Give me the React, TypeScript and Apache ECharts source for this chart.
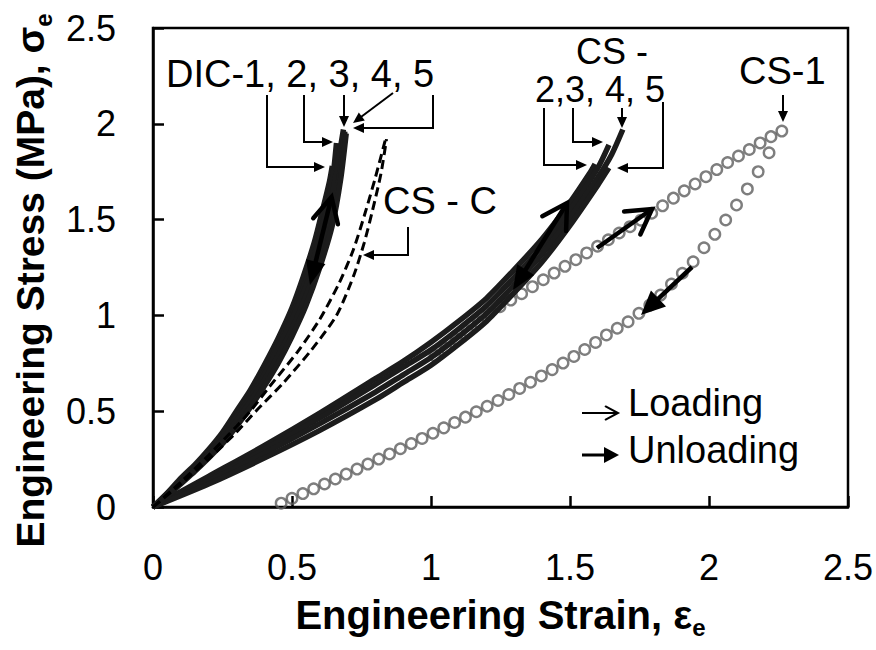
import React, { useEffect, useRef } from "react";
import * as echarts from "echarts";

// ---------------- DATA ----------------
const xTicks = [0, 0.5, 1, 1.5, 2, 2.5];
const yTicks = [0, 0.5, 1, 1.5, 2, 2.5];

// DIC-1..5 (dense star markers, drawn as dark lines)
const dic1 = [[0,0],[0.05,0.07],[0.1,0.15],[0.15,0.22],[0.2,0.3],[0.25,0.39],[0.3,0.5],[0.35,0.61],[0.4,0.74],[0.45,0.88],[0.5,1.04],[0.54,1.2],[0.58,1.38],[0.61,1.55],[0.635,1.7],[0.645,1.78]];
const dic2 = [[0,0],[0.05,0.07],[0.1,0.14],[0.15,0.21],[0.2,0.29],[0.25,0.38],[0.3,0.48],[0.35,0.59],[0.4,0.71],[0.45,0.85],[0.5,1.0],[0.55,1.18],[0.59,1.36],[0.62,1.53],[0.645,1.7],[0.66,1.9]];
const dic3 = [[0,0],[0.05,0.065],[0.1,0.135],[0.15,0.2],[0.2,0.28],[0.25,0.37],[0.3,0.47],[0.35,0.57],[0.4,0.69],[0.45,0.83],[0.5,0.98],[0.55,1.15],[0.6,1.35],[0.635,1.55],[0.66,1.75],[0.685,1.97]];
const dic4 = [[0,0],[0.05,0.06],[0.1,0.13],[0.15,0.195],[0.2,0.27],[0.25,0.355],[0.3,0.45],[0.35,0.55],[0.4,0.66],[0.45,0.79],[0.5,0.93],[0.55,1.1],[0.6,1.3],[0.64,1.5],[0.67,1.72],[0.69,1.96]];
const dic5 = [[0,0],[0.05,0.055],[0.1,0.12],[0.15,0.185],[0.2,0.255],[0.25,0.33],[0.3,0.42],[0.35,0.52],[0.4,0.63],[0.45,0.75],[0.5,0.89],[0.55,1.05],[0.6,1.25],[0.645,1.47],[0.675,1.71],[0.695,1.95]];

// CS - C (dashed)
const csC1 = [[0,0],[0.1,0.13],[0.2,0.27],[0.3,0.42],[0.35,0.5],[0.42,0.63],[0.52,0.81],[0.6,0.98],[0.67,1.17],[0.72,1.34],[0.76,1.52],[0.8,1.72],[0.84,1.94]];
const csC2 = [[0,0],[0.1,0.12],[0.2,0.25],[0.3,0.39],[0.37,0.5],[0.47,0.65],[0.57,0.82],[0.66,1.0],[0.72,1.2],[0.76,1.38],[0.79,1.55],[0.82,1.74],[0.84,1.92]];

// CS-2..5 (dense square markers)
const cs2 = [[0,0],[0.2,0.16],[0.4,0.32],[0.6,0.49],[0.8,0.67],[0.9,0.76],[1.0,0.86],[1.1,0.97],[1.2,1.09],[1.3,1.24],[1.4,1.4],[1.5,1.59],[1.57,1.74],[1.59,1.79]];
const cs3 = [[0,0],[0.2,0.145],[0.4,0.3],[0.6,0.465],[0.8,0.64],[0.9,0.73],[1.0,0.82],[1.1,0.93],[1.2,1.05],[1.3,1.2],[1.4,1.36],[1.5,1.55],[1.6,1.77],[1.64,1.89]];
const cs4 = [[0,0],[0.2,0.135],[0.4,0.28],[0.6,0.435],[0.8,0.6],[0.9,0.69],[1.0,0.78],[1.1,0.89],[1.2,1.01],[1.3,1.16],[1.4,1.32],[1.5,1.51],[1.6,1.72],[1.65,1.84],[1.69,1.97]];
const cs5 = [[0,0],[0.2,0.12],[0.4,0.255],[0.6,0.4],[0.8,0.56],[0.9,0.65],[1.0,0.74],[1.1,0.85],[1.2,0.97],[1.3,1.12],[1.4,1.28],[1.5,1.47],[1.6,1.68],[1.64,1.77]];

// CS-1 (open circles): loading and unloading branches
const cs1Loading = [[1.014,0.79],[1.053,0.83],[1.092,0.875],[1.131,0.92],[1.17,0.965],[1.209,1.01],[1.248,1.045],[1.287,1.08],[1.326,1.113],[1.365,1.15],[1.404,1.186],[1.443,1.221],[1.482,1.256],[1.521,1.291],[1.56,1.326],[1.599,1.361],[1.638,1.395],[1.677,1.43],[1.716,1.463],[1.755,1.497],[1.794,1.533],[1.833,1.572],[1.872,1.612],[1.911,1.65],[1.95,1.686],[1.989,1.724],[2.028,1.761],[2.067,1.798],[2.106,1.832],[2.145,1.866],[2.184,1.9],[2.223,1.933],[2.262,1.962]];
const cs1Unloading = [[2.216,1.849],[2.177,1.75],[2.138,1.66],[2.099,1.576],[2.06,1.498],[2.021,1.423],[1.982,1.353],[1.943,1.28],[1.904,1.22],[1.865,1.164],[1.826,1.106],[1.787,1.054],[1.748,1.011],[1.709,0.967],[1.67,0.933],[1.631,0.898],[1.592,0.859],[1.553,0.822],[1.514,0.786],[1.475,0.751],[1.436,0.717],[1.397,0.684],[1.358,0.651],[1.319,0.619],[1.28,0.587],[1.241,0.556],[1.202,0.526],[1.163,0.497],[1.124,0.469],[1.085,0.441],[1.046,0.413],[1.007,0.385],[0.968,0.358],[0.929,0.331],[0.89,0.304],[0.851,0.277],[0.812,0.25],[0.773,0.224],[0.734,0.198],[0.695,0.172],[0.656,0.146],[0.617,0.12],[0.578,0.095],[0.539,0.07],[0.5,0.045],[0.461,0.02]];

// Annotation texts
const labelDIC = "DIC-1, 2, 3, 4, 5";
const labelCSC = "CS - C";
const labelCSTop = "CS -";
const labelCSBottom = "2,3, 4, 5";
const labelCS1 = "CS-1";
const labelLoading = "Loading";
const labelUnloading = "Unloading";

// ---------------- LAYOUT ----------------
const FONT = "'Liberation Sans', Arial, Helvetica, sans-serif";

const thinArrowPaths = [
  [[267, 95], [267, 167], [325, 167]],
  [[304, 95], [304, 142], [333, 142]],
  [[344, 95], [344, 127]],
  [[393, 93], [353, 123]],
  [[433, 95], [433, 128], [353, 128]],
  [[408, 227], [408, 255], [363, 255]],
  [[544, 108], [544, 165], [587, 165]],
  [[573, 108], [573, 142], [603, 142]],
  [[622, 108], [622, 128]],
  [[663, 102], [663, 168], [617, 168]],
  [[783, 95], [783, 122]],
];

type Pt = number[];

function unit(from: Pt, to: Pt) {
  const dx = to[0] - from[0], dy = to[1] - from[1];
  const L = Math.hypot(dx, dy) || 1;
  return [dx / L, dy / L];
}
function filledHead(tip: Pt, from: Pt, len: number, hw: number) {
  const u = unit(from, tip);
  const bc = [tip[0] - u[0] * len, tip[1] - u[1] * len];
  const p = [-u[1], u[0]];
  return {
    type: "polygon", silent: true, z: 100,
    shape: { points: [tip, [bc[0] + p[0] * hw, bc[1] + p[1] * hw], [bc[0] - p[0] * hw, bc[1] - p[1] * hw]] },
    style: { fill: "#000" },
  };
}
function openHead(tip: Pt, from: Pt, len: number, angDeg: number, lw: number) {
  const u = unit(from, tip);
  const a = (angDeg * Math.PI) / 180;
  const bx = -u[0], by = -u[1];
  const r1 = [bx * Math.cos(a) - by * Math.sin(a), bx * Math.sin(a) + by * Math.cos(a)];
  const r2 = [bx * Math.cos(-a) - by * Math.sin(-a), bx * Math.sin(-a) + by * Math.cos(-a)];
  return {
    type: "polyline", silent: true, z: 100,
    shape: { points: [[tip[0] + r1[0] * len, tip[1] + r1[1] * len], tip, [tip[0] + r2[0] * len, tip[1] + r2[1] * len]] },
    style: { stroke: "#000", lineWidth: lw, fill: "none", lineJoin: "miter", lineCap: "round" },
  };
}
function thinArrow(points: Pt[], len = 11, hw = 5, lw = 2) {
  const n = points.length;
  const tip = points[n - 1], prev = points[n - 2];
  const u = unit(prev, tip);
  const end = [tip[0] - u[0] * len * 0.6, tip[1] - u[1] * len * 0.6];
  return [
    {
      type: "polyline", silent: true, z: 100,
      shape: { points: [...points.slice(0, -1), end] },
      style: { stroke: "#000", lineWidth: lw, fill: "none" },
    },
    filledHead(tip, prev, len, hw),
  ];
}
function shaft(a: Pt, b: Pt, lw: number) {
  return {
    type: "line", silent: true, z: 100,
    shape: { x1: a[0], y1: a[1], x2: b[0], y2: b[1] },
    style: { stroke: "#000", lineWidth: lw, lineCap: "butt" },
  };
}
function back(tip: Pt, from: Pt, d: number) {
  const u = unit(from, tip);
  return [tip[0] - u[0] * d, tip[1] - u[1] * d];
}
function label(text: string, x: number, y: number, size = 38) {
  return {
    type: "text", silent: true, z: 101,
    style: { text, x, y, fontSize: size, fontFamily: FONT, fill: "#000", align: "left", verticalAlign: "middle" },
  };
}

function buildGraphic() {
  const g: any[] = [];
  thinArrowPaths.forEach((p) => g.push(...thinArrow(p)));

  const LW = 4.5;
  {
    const bot = [310, 285], top = [331.5, 197];
    g.push(shaft(back(bot, top, 14), top, LW));
    g.push(openHead(top, bot, 28, 27, LW));
    g.push(filledHead(bot, top, 24, 10));
  }
  {
    const bot = [513, 290], top = [567, 203];
    g.push(shaft(back(bot, top, 14), top, LW));
    g.push(openHead(top, bot, 28, 30, LW));
    g.push(filledHead(bot, top, 24, 10));
  }
  {
    const s = [597, 248], t = [652, 209];
    g.push(shaft(s, t, LW));
    g.push(openHead(t, s, 28, 30, LW));
  }
  {
    const s = [692, 267], t = [641, 315];
    g.push(shaft(s, back(t, s, 14), LW));
    g.push(filledHead(t, s, 24, 11));
  }
  // legend arrows
  g.push(shaft([582, 413], [618, 413], 2));
  g.push(openHead([618, 413], [582, 413], 14, 28, 2));
  g.push(shaft([582, 455], [606, 455], 3));
  g.push(filledHead([619, 455], [582, 455], 15, 8));

  g.push(label(labelDIC, 166, 74));
  g.push(label(labelCSC, 383, 201));
  g.push(label(labelCSTop, 576, 51, 36));
  g.push(label(labelCSBottom, 535, 89, 36));
  g.push(label(labelCS1, 739, 71));
  g.push(label(labelLoading, 628, 403));
  g.push(label(labelUnloading, 628, 450));
  return g;
}

function lineSeries(name: string, data: number[][], extra: any = {}) {
  return {
    type: "line", name, data, symbol: "none", smooth: 0.25,
    lineStyle: { color: "#1c1c1c", width: 5.5 }, z: 3, ...extra,
  };
}

export default function App() {
  const ref = useRef<HTMLDivElement>(null);
  useEffect(() => {
    const chart = echarts.init(ref.current!, null, { renderer: "svg" });
    const axisCommon = {
      type: "value", min: 0, max: 2.5, interval: 0.5,
      axisLine: { show: true, onZero: false, lineStyle: { color: "#000", width: 2.5 } },
      axisTick: { show: true, inside: true, length: 11, lineStyle: { color: "#000", width: 2.5 } },
      splitLine: { show: false },
    };
    const titleRich = { sub: { fontSize: 24, fontWeight: "bold", fontFamily: FONT, color: "#000", verticalAlign: "bottom", lineHeight: 22 } };
    const circleStyle = { color: "rgba(255,255,255,0)", borderColor: "#5e5e5e", borderWidth: 2.4 };
    const option: any = {
      animation: false,
      backgroundColor: "#fff",
      grid: {
        left: 153, right: 28, top: 28, bottom: 143, containLabel: false, outerBoundsMode: "none",
        show: true, borderColor: "#000", borderWidth: 2.5, backgroundColor: "transparent",
      },
      xAxis: {
        ...axisCommon,
        axisLabel: { color: "#000", fontSize: 36, fontFamily: FONT, margin: 42, formatter: (v: number) => (xTicks.includes(v) ? String(v) : "") },
        name: "Engineering Strain, ε{sub|e}", nameLocation: "middle", nameGap: 82,
        nameTextStyle: { fontSize: 40, fontWeight: "bold", fontFamily: FONT, color: "#000", lineHeight: 50, rich: titleRich },
      },
      yAxis: {
        ...axisCommon,
        axisLabel: { color: "#000", fontSize: 36, fontFamily: FONT, margin: 37, formatter: (v: number) => (yTicks.includes(v) ? String(v) : "") },
        name: "Engineering Stress (MPa), σ{sub|e}", nameLocation: "middle", nameRotate: 90, nameGap: 91,
        nameTextStyle: { fontSize: 39, fontWeight: "bold", fontFamily: FONT, color: "#000", lineHeight: 50, padding: [0, 26, 0, 0], rich: titleRich },
      },
      series: [
        { type: "scatter", name: "CS-1 loading", data: cs1Loading, symbol: "circle", symbolSize: 10.5, z: 2, itemStyle: circleStyle },
        { type: "scatter", name: "CS-1 unloading", data: cs1Unloading, symbol: "circle", symbolSize: 10.5, z: 2, itemStyle: circleStyle },
        lineSeries("CS-2", cs2),
        lineSeries("CS-3", cs3),
        lineSeries("CS-4", cs4),
        lineSeries("CS-5", cs5),
        lineSeries("DIC-1", dic1),
        lineSeries("DIC-2", dic2),
        lineSeries("DIC-3", dic3),
        lineSeries("DIC-4", dic4),
        lineSeries("DIC-5", dic5),
        lineSeries("CS-C a", csC1, { lineStyle: { color: "#000", width: 3, type: [9, 5] }, z: 4 }),
        lineSeries("CS-C b", csC2, { lineStyle: { color: "#000", width: 3, type: [9, 5] }, z: 4 }),
      ],
      graphic: buildGraphic(),
    };
    chart.setOption(option);
    return () => chart.dispose();
  }, []);
  return (
    <div
      ref={ref}
      style={{ position: "fixed", left: 0, top: 0, width: 876, height: 650, background: "#fff" }}
    />
  );
}
